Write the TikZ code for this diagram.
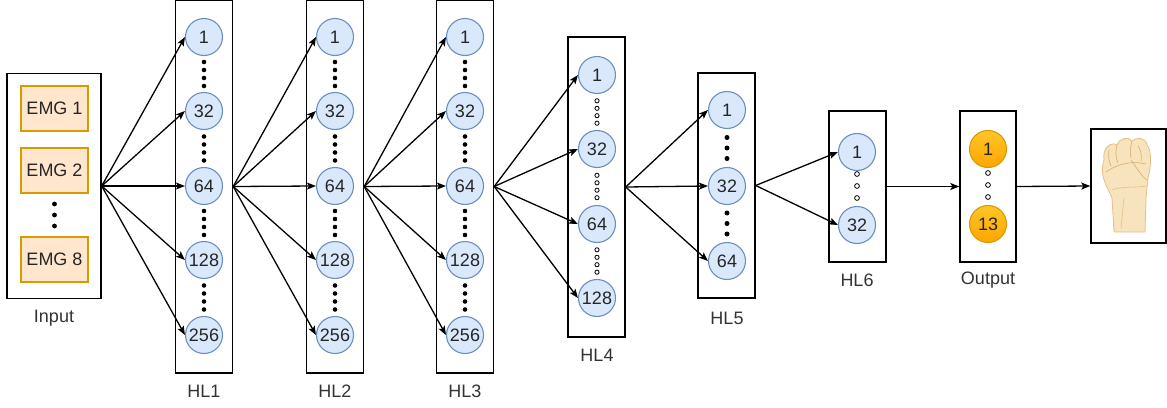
\documentclass[tikz,border=0pt]{standalone}
\usepackage{fontspec}
\setmainfont{Liberation Sans}
\usetikzlibrary{arrows.meta}

\definecolor{neuronfill}{HTML}{DAE8FC}
\definecolor{neuronline}{HTML}{6C8EBF}
\definecolor{emgfill}{HTML}{FFE6CC}
\definecolor{emgline}{HTML}{D79B00}
\definecolor{outtop}{HTML}{FFC629}
\definecolor{outbot}{HTML}{FFA500}
\definecolor{labelgray}{HTML}{333333}
\definecolor{skin}{HTML}{F7E3BC}
\definecolor{skinline}{HTML}{E3C08A}
\definecolor{skindark}{HTML}{D8AE72}

\tikzset{
  txt/.style={font=\fontsize{18}{18}\selectfont},
  neuron/.style={circle, draw=neuronline, fill=neuronfill, line width=1.1pt,
    minimum size=37pt, inner sep=0pt, txt, text=black!85},
  outneuron/.style={neuron, draw=emgline, top color=outtop, bottom color=outbot},
  layerbox/.style={draw=black, line width=1.4pt, inner sep=0pt, minimum width=57pt},
  emgbox/.style={draw=emgline, fill=emgfill, line width=1.3pt, minimum width=67pt,
    minimum height=45pt, inner sep=0pt, txt, text=black!85},
  caption/.style={txt, text=labelgray, inner sep=0pt},
  conn/.style={-{Stealth[length=9pt,width=7pt,inset=2pt]}, line width=1.3pt},
  hollowdot/.style={draw=black, line width=0.8pt, fill=white},
}

\begin{document}
\begin{tikzpicture}[x=1pt,y=-1pt]
\useasboundingbox (0,0) rectangle (1167,407);

% ---------------- input block ----------------
\node[layerbox, minimum width=94pt, minimum height=225pt] (input) at (54,186) {};
\node[emgbox] (emg1) at (54.5,108.5) {EMG 1};
\node[emgbox] (emg2) at (54.5,170.5) {EMG 2};
\node[emgbox] (emg8) at (54.5,259.5) {EMG 8};
\foreach \yy in {204,215,226} \fill (54.5,\yy) circle (2.4pt);
\node[caption] (inlabel) at (54,318) {Input};

% ---------------- hidden layers 1-3 (256 units) ----------------
\foreach \lx/\ln in {204/1, 335/2, 465/3} {
  \node[layerbox, minimum height=373pt] (hl\ln) at (\lx,186.5) {};
  \foreach \yy/\t [count=\k] in {37/1, 111/32, 186/64, 260/128, 335/256}
    \node[neuron] (hl\ln-\k) at (\lx,\yy) {\t};
  \foreach \m in {74,148.5,223,297.5}
    \foreach \d in {-12,-4,4,12}
      \fill (\lx,\m+\d) circle (2.3pt);
  \node[caption] (hl\ln label) at (\lx,391) {HL\ln};
}

% ---------------- hidden layer 4 (128 units) ----------------
\node[layerbox, minimum height=300pt] (hl4) at (596.5,187) {};
\foreach \yy/\t [count=\k] in {75/1, 149/32, 224/64, 298/128}
  \node[neuron] (hl4-\k) at (597,\yy) {\t};
\foreach \m in {112,186.5,261}
  \foreach \d in {-11.2,-3.7,3.7,11.2}
    \draw[hollowdot] (597,\m+\d) circle (2.1pt);
\node[caption] (hl4label) at (597,355) {HL4};

% ---------------- hidden layer 5 (64 units) ----------------
\node[layerbox, minimum height=225pt] (hl5) at (726.5,185.5) {};
\foreach \yy/\t [count=\k] in {110/1, 186/32, 261/64}
  \node[neuron] (hl5-\k) at (727,\yy) {\t};
\foreach \m in {148,223.5}
  \foreach \d in {-10.5,0,10.5}
    \fill (727,\m+\d) circle (2.5pt);
\node[caption] (hl5label) at (727,318) {HL5};

% ---------------- hidden layer 6 (32 units) ----------------
\node[layerbox, minimum height=151pt] (hl6) at (857.5,186.5) {};
\node[neuron] (hl6-1) at (857,152) {1};
\node[neuron] (hl6-2) at (857,225) {32};
\foreach \yy in {174,186,198} \draw[hollowdot] (857,\yy) circle (2.4pt);
\node[caption] (hl6label) at (857,280) {HL6};

% ---------------- output layer (13 classes) ----------------
\node[layerbox, minimum width=56pt, minimum height=151pt] (out) at (988,186.5) {};
\node[outneuron] (out-1) at (988,149) {1};
\node[outneuron] (out-2) at (988,224) {13};
\foreach \yy in {173,185,197} \draw[hollowdot] (988,\yy) circle (2.4pt);
\node[caption] (outlabel) at (988,280) {Output};

% ---------------- gesture box with fist ----------------
\node[layerbox, minimum width=75pt, minimum height=114pt] (hand) at (1128.5,186) {};
\begin{scope}[line join=round, line cap=round]
  % silhouette of forearm and clenched fist with knuckle bumps
  \draw[fill=skin, draw=skinline, line width=0.8pt]
    (1114,232) -- (1112,198) -- (1106,185)
    .. controls (1101,174) and (1102,166) .. (1104,160)
    .. controls (1102,148) and (1111,141) .. (1117,145)
    .. controls (1119,138) and (1129,136) .. (1132,141)
    .. controls (1136,137) and (1146,137) .. (1147,145)
    .. controls (1152,150) and (1151,168) .. (1148,178)
    -- (1146,198) -- (1145,232) -- cycle;
  % finger creases
  \draw[skindark, line width=0.6pt] (1109,150) .. controls (1108,156) and (1109,162) .. (1111,166);
  \draw[skindark, line width=0.6pt] (1117,145) .. controls (1115,152) and (1116,158) .. (1118,163);
  \draw[skindark, line width=0.6pt] (1132,141) .. controls (1130,148) and (1130,154) .. (1131,158);
  % thumb folded over the fingers
  \draw[skindark, line width=0.6pt] (1106,172) .. controls (1116,165) and (1130,160) .. (1146,164);
  \draw[skindark, line width=0.6pt] (1131,160) .. controls (1137,168) and (1141,176) .. (1147,180);
  \draw[skindark, line width=0.6pt] (1138,146) .. controls (1141,150) and (1142,156) .. (1141,161);
  % wrist and forearm shading
  \draw[skinline, line width=0.6pt] (1112,190) .. controls (1122,186) and (1134,188) .. (1146,186);
  \draw[skinline, line width=0.6pt] (1124,198) -- (1121,228);
\end{scope}

% ---------------- connections ----------------
\foreach \k in {1,...,5} \draw[conn] (input.east |- 0,186) -- (hl1-\k.west);
\foreach \k in {1,...,5} \draw[conn] (hl1.east) -- (hl2-\k.west);
\foreach \k in {1,...,5} \draw[conn] (hl2.east) -- (hl3-\k.west);
\foreach \k in {1,...,4} \draw[conn] (hl3.east) -- (hl4-\k.west);
\foreach \k in {1,...,3} \draw[conn] (hl4.east) -- (hl5-\k.west);
\foreach \k in {1,2} \draw[conn] (hl5.east) -- (hl6-\k.west);
\draw[conn] (hl6.east) -- (out.west);
\draw[conn] (out.east) -- (hand.west);
\end{tikzpicture}
\end{document}
